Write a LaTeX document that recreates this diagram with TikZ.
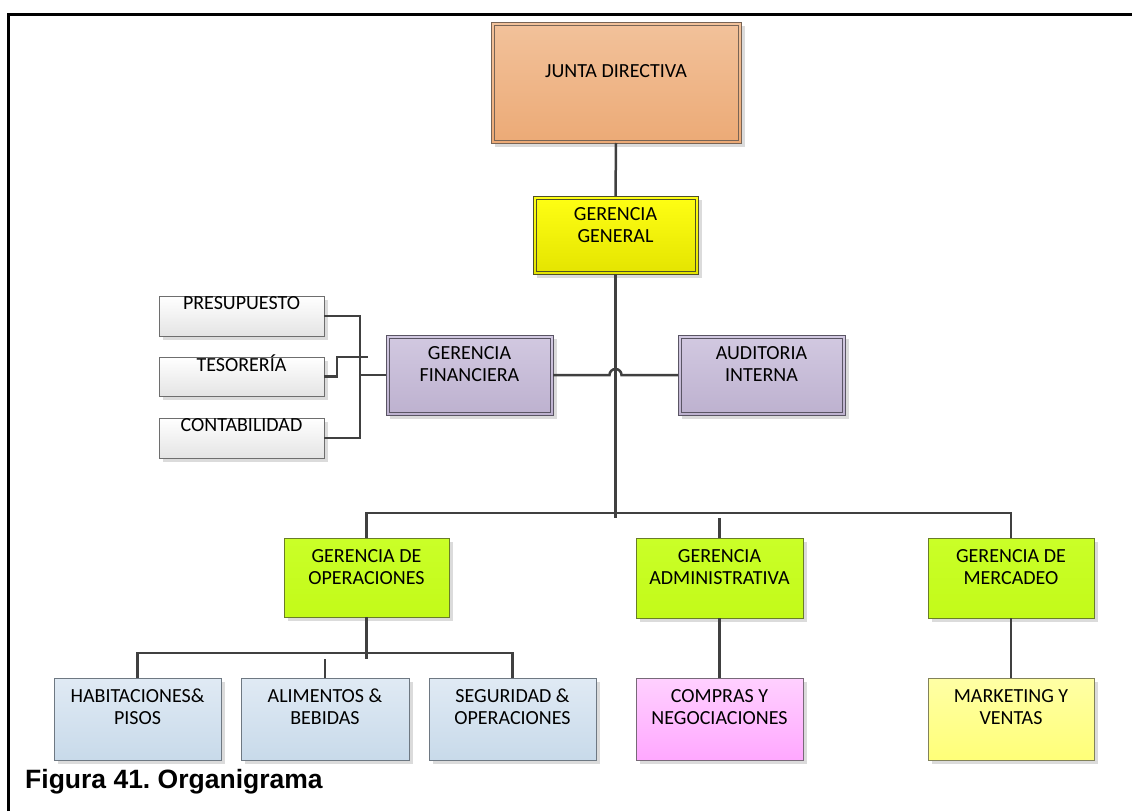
\documentclass[tikz,border=0pt]{standalone}
\usepackage{fontspec}
\setmainfont{Carlito}
\newfontfamily\capfont{Liberation Sans}
\usetikzlibrary{calc,shadows}
\frenchspacing

% box label: height, width, top offset, text
\newcommand{\blabel}[4]{\parbox[c][#1pt][t]{#2pt}{\centering\vspace*{#3pt}\rule{0pt}{16pt}#4\par}}

\definecolor{conncol}{RGB}{64,64,64}
\definecolor{jdtop}{RGB}{242,194,155}
\definecolor{jdbot}{RGB}{236,170,118}
\definecolor{jdline}{RGB}{120,100,85}
\definecolor{ggtop}{RGB}{255,255,20}
\definecolor{ggbot}{RGB}{228,228,0}
\definecolor{ggline}{RGB}{80,80,40}
\definecolor{vitop}{RGB}{210,201,225}
\definecolor{vibot}{RGB}{189,177,207}
\definecolor{viline}{RGB}{90,85,100}
\definecolor{grtop}{RGB}{202,255,40}
\definecolor{grbot}{RGB}{195,250,25}
\definecolor{grline}{RGB}{105,125,40}
\definecolor{bltop}{RGB}{224,234,244}
\definecolor{blbot}{RGB}{200,218,234}
\definecolor{blline}{RGB}{110,120,130}
\definecolor{pktop}{RGB}{255,208,255}
\definecolor{pkbot}{RGB}{255,168,255}
\definecolor{pkline}{RGB}{120,105,120}
\definecolor{yltop}{RGB}{255,255,165}
\definecolor{ylbot}{RGB}{255,255,120}
\definecolor{ylline}{RGB}{130,130,90}
\definecolor{whbot}{RGB}{228,228,228}
\definecolor{whline}{RGB}{110,110,110}

\tikzset{
  orgbox/.style={draw, line width=1pt, inner sep=0pt, outer sep=0pt, anchor=north west,
    font=\fontsize{20}{22.4}\selectfont,
    general shadow={shadow xshift=4pt, shadow yshift=-4pt, fill=black!14}},
  jdbox/.style={orgbox, draw=jdline, top color=jdtop, bottom color=jdbot},
  ggbox/.style={orgbox, draw=ggline, top color=ggtop, bottom color=ggbot},
  vibox/.style={orgbox, draw=viline, top color=vitop, bottom color=vibot},
  grbox/.style={orgbox, draw=grline, top color=grtop, bottom color=grbot},
  blbox/.style={orgbox, draw=blline, top color=bltop, bottom color=blbot},
  pkbox/.style={orgbox, draw=pkline, top color=pktop, bottom color=pkbot},
  ylbox/.style={orgbox, draw=ylline, top color=yltop, bottom color=ylbot},
  whbox/.style={orgbox, draw=whline, top color=white, bottom color=whbot},
  inner/.style={line width=1pt},
  conn/.style={draw=conncol, line width=2.5pt},
}

\begin{document}
\begin{tikzpicture}[x=1pt, y=-1pt, line join=miter]
\useasboundingbox (0,0) rectangle (1132,811);

% outer frame (top and left only)
\draw[line width=3pt] (8.5,811) -- (8.5,14.5) -- (1132,14.5);

% top levels
\node[jdbox] (jd) at (491,22) {\blabel{121}{250}{39}{JUNTA DIRECTIVA}};
\node[ggbox] (gg) at (533,196) {\blabel{78}{165}{8}{GERENCIA\\GENERAL}};

% finance branch
\node[vibox] (gf) at (386,335) {\blabel{80}{167}{8}{GERENCIA\\FINANCIERA}};
\node[vibox] (ai) at (678,335) {\blabel{80}{167}{8}{AUDITORIA\\INTERNA}};
\node[whbox] (pre) at (159,296) {\blabel{40}{165}{-2.5}{PRESUPUESTO}};
\node[whbox] (tes) at (159,357) {\blabel{39}{165}{-2.5}{TESORERÍA}};
\node[whbox] (con) at (159,418) {\blabel{40}{165}{-2.5}{CONTABILIDAD}};

% inner borders of the double-lined boxes
\draw[inner, draw=jdline] ([shift={(3,3)}]jd.north west) rectangle ([shift={(-3,-3)}]jd.south east);
\draw[inner, draw=ggline] ([shift={(3,3)}]gg.north west) rectangle ([shift={(-3,-3)}]gg.south east);
\draw[inner, draw=viline] ([shift={(3,3)}]gf.north west) rectangle ([shift={(-3,-3)}]gf.south east);
\draw[inner, draw=viline] ([shift={(3,3)}]ai.north west) rectangle ([shift={(-3,-3)}]ai.south east);

% management level
\node[grbox] (go) at (284,538) {\blabel{79}{165}{8}{GERENCIA DE\\OPERACIONES}};
\node[grbox] (ga) at (636,538) {\blabel{80}{167}{8}{GERENCIA\\ADMINISTRATIVA}};
\node[grbox] (gm) at (928,538) {\blabel{80}{166}{8}{GERENCIA DE\\MERCADEO}};

% departments
\node[blbox] (hab) at (54,678) {\blabel{82}{167}{8}{HABITACIONES\&\\PISOS}};
\node[blbox] (ali) at (241,678) {\blabel{82}{168}{8}{ALIMENTOS \&\\BEBIDAS}};
\node[blbox] (seg) at (429,678) {\blabel{82}{167}{8}{SEGURIDAD \&\\OPERACIONES}};
\node[pkbox] (com) at (636,678) {\blabel{82}{167}{8}{COMPRAS Y\\NEGOCIACIONES}};
\node[ylbox] (mkt) at (928,678) {\blabel{82}{166}{8}{MARKETING Y\\VENTAS}};

% helper coordinates for buses
\coordinate (bus) at (0,513);
\coordinate (trunk) at (0,518);
\coordinate (fbus) at (360,0);
\coordinate (tk) at (337,357);
\coordinate (tend) at (368,357);
\coordinate (sbus) at (0,653);
\coordinate (sdrop) at (0,659);

% connectors
\draw[conn] (jd.south) -- (gg.north);
\draw[conn] (gg.south) -- (gg.south |- trunk);
\draw[conn] (go.north) -- (go.north |- bus) -- (gm.north |- bus) -- (gm.north);
\draw[conn] (ga.north |- trunk) -- (ga.north);
\draw[conn] (gf.east) -- ($(gg.south |- gf.east)+(-6,0)$)
  arc[start angle=180, end angle=0, radius=6pt] -- (ai.west);
\draw[conn] (pre.east) -- (pre.east -| fbus) -- (con.east -| fbus) -- (con.east);
\draw[conn] (gf.west) -- (gf.west -| fbus);
\draw[conn] (tes.east) -- (tes.east -| tk) -- (tk) -- (tend);
\draw[conn] (go.south) -- (go.south |- sdrop);
\draw[conn] (hab.north) -- (hab.north |- sbus) -- (seg.north |- sbus) -- (seg.north);
\draw[conn] (ali.north |- sdrop) -- (ali.north);
\draw[conn] (ga.south) -- (com.north);
\draw[conn] (gm.south) -- (mkt.north);

% caption
\node[anchor=base west, inner sep=0pt, font=\capfont\bfseries\fontsize{26.5}{30}\selectfont] (cap) at (25,788) {Figura 41. Organigrama};
\end{tikzpicture}
\end{document}
